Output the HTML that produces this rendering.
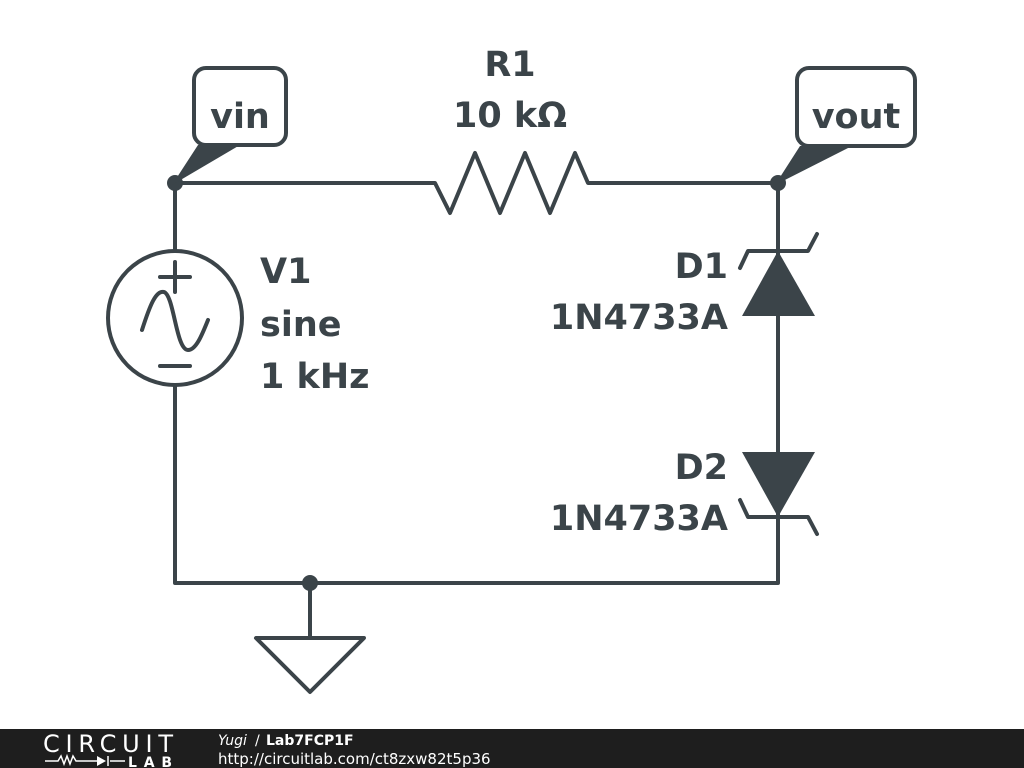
<!DOCTYPE html>
<html><head><meta charset="utf-8"><style>
html,body{margin:0;padding:0;background:#fff;width:1024px;height:768px;overflow:hidden}
svg{display:block}
text{font-family:"DejaVu Sans","Liberation Sans",sans-serif;fill:#3b4449;font-weight:bold}
</style></head><body>
<svg width="1024" height="768" viewBox="0 0 1024 768">
<g stroke="#3b4449" stroke-width="4" fill="none" stroke-linecap="round" stroke-linejoin="round">
<path d="M175 183 H435 L450 213 L475 153 L500 213 L525 153 L550 213 L575 153 L588 183 H778"/>
<path d="M175 183 V251"/>
<path d="M175 385 V583 H778 V183"/>
<path d="M310 583 V638"/>
<circle cx="175" cy="318" r="67"/>
<path d="M160 277 H190 M175 262 V292 M160 366 H190"/>
<path d="M142 330 C150 305 156 290 164 292 C174 295 176 350 188 350 C196 350 202 335 208 320"/>
<path d="M256 638 H364 L310 692 Z"/>
<path d="M740 268 L748 251 H808 L817 234"/>
<path d="M740 500 L748 517 H808 L817 534"/>
<rect x="194" y="68" width="92" height="77" rx="12" fill="#fff"/>
<rect x="797" y="68" width="118" height="78" rx="12" fill="#fff"/>
</g>
<g fill="#3b4449">
<polygon points="742,316 815,316 778,251"/>
<polygon points="742,452 815,452 778,517"/>
<circle cx="175" cy="183" r="8"/>
<circle cx="778" cy="183" r="8"/>
<circle cx="310" cy="583" r="8"/>
<polygon points="172,185 198,145 240,145"/>
<polygon points="775,185 800,146 852,146"/>
</g>
<g font-size="35">
<text x="240" y="128" text-anchor="middle">vin</text>
<text x="856" y="128" text-anchor="middle">vout</text>
<text x="510" y="76" text-anchor="middle">R1</text>
<text x="510" y="127" text-anchor="middle">10 kΩ</text>
<text x="260" y="283">V1</text>
<text x="260" y="336">sine</text>
<text x="260" y="388">1 kHz</text>
<text x="728" y="278" text-anchor="end">D1</text>
<text x="728" y="329" text-anchor="end">1N4733A</text>
<text x="728" y="479" text-anchor="end">D2</text>
<text x="728" y="530" text-anchor="end">1N4733A</text>
</g>
<rect x="0" y="729" width="1024" height="39" fill="#1e1e1e"/>
<text x="43" y="752" font-size="24" style="fill:#fff;font-weight:normal" textLength="130">CIRCUIT</text>
<g stroke="#fff" stroke-width="1.5" fill="none"><path d="M45 761 H58 L61 756 L64 764 L67 756 L70 764 L73 756 L76 761 H100 M108 756 V766 M110 761 H125"/></g>
<polygon points="97,756 97,766 106,761" fill="#fff"/>
<text x="128" y="767" font-size="14" style="fill:#fff" textLength="44">LAB</text>
<text x="218" y="745" font-size="14" style="fill:#fff;font-weight:normal;font-style:italic">Yugi</text>
<text x="255" y="745" font-size="14" style="fill:#fff;font-weight:normal">/</text>
<text x="266" y="745" font-size="14" style="fill:#fff">Lab7FCP1F</text>
<text x="218" y="764" font-size="15" style="fill:#fff;font-weight:normal">http://circuitlab.com/ct8zxw82t5p36</text>
</svg>
</body></html>
